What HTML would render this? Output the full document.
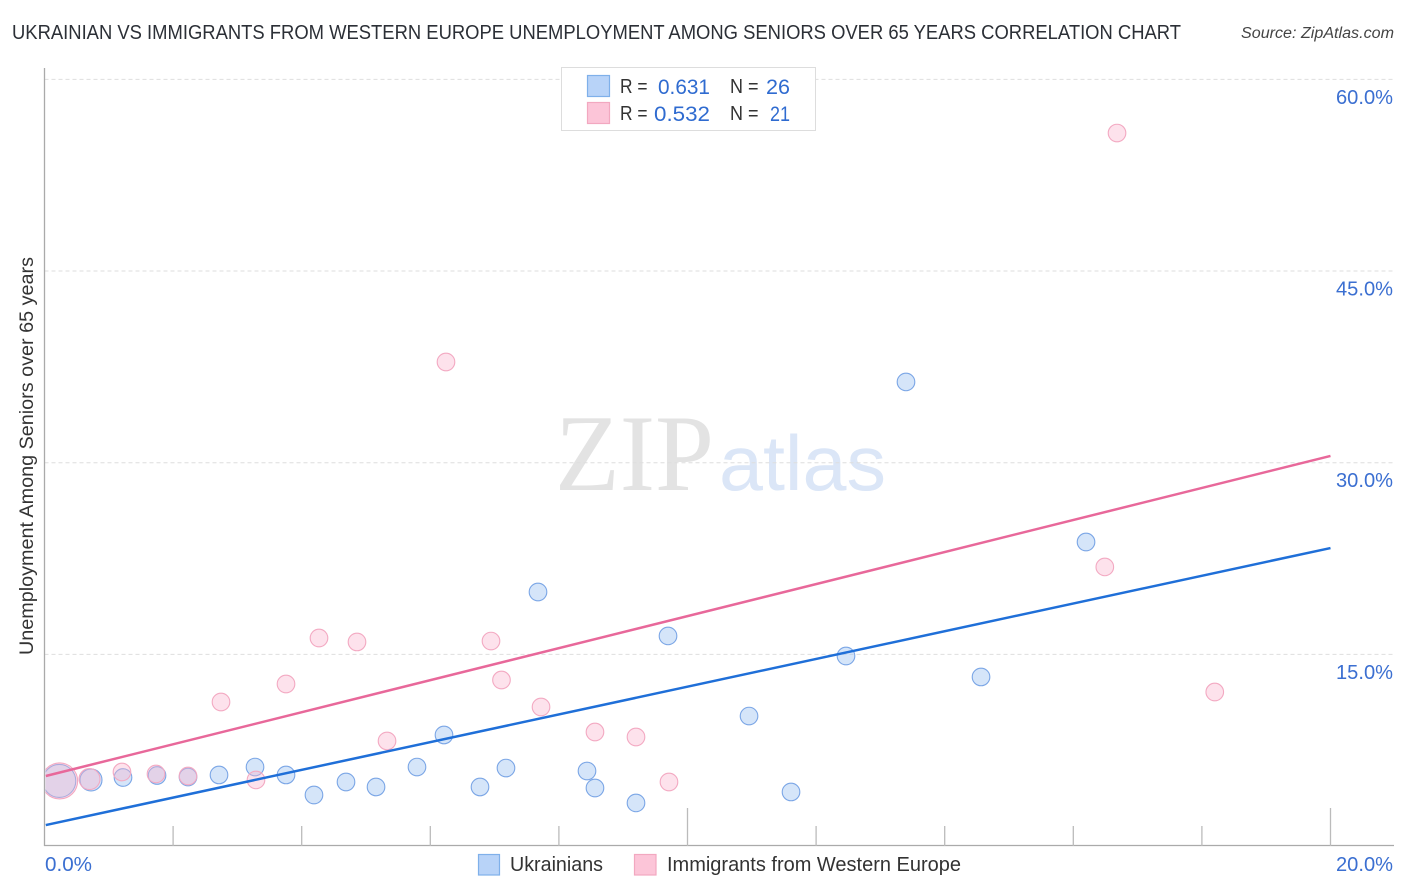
<!DOCTYPE html>
<html lang="en">
<head>
<meta charset="utf-8">
<title>Ukrainian vs Immigrants from Western Europe Unemployment Correlation Chart</title>
<style>
html,body{margin:0;padding:0;background:#fff;width:1406px;height:892px;overflow:hidden}
svg{display:block;font-family:"Liberation Sans",sans-serif}
</style>
</head>
<body>
<svg id="chart" width="1406" height="892" viewBox="0 0 1406 892">
  <defs><clipPath id="plot-clip"><rect x="45.5" y="60" width="1350" height="786"/></clipPath></defs>
  <text x="12" y="39" font-size="20" fill="#2b2f36" textLength="1169" lengthAdjust="spacingAndGlyphs">UKRAINIAN VS IMMIGRANTS FROM WESTERN EUROPE UNEMPLOYMENT AMONG SENIORS OVER 65 YEARS CORRELATION CHART</text>
  <text x="1241" y="38" font-size="15.5" font-style="italic" fill="#444" textLength="153" lengthAdjust="spacingAndGlyphs">Source: ZipAtlas.com</text>
  <g id="watermark">
    <text x="555" y="490" font-family="'Liberation Serif',serif" font-size="109" fill="#e3e3e3" textLength="159" lengthAdjust="spacingAndGlyphs">ZIP</text>
    <text x="719" y="490" font-size="78" fill="#dbe6f7" textLength="167" lengthAdjust="spacingAndGlyphs">atlas</text>
  </g>
  <g id="grid"></g>
  <g id="marks" clip-path="url(#plot-clip)"></g>
  <rect x="36" y="755" width="8.5" height="50" fill="#fff"/>
  <g id="axes"></g>
  <text transform="translate(33 456) rotate(-90)" text-anchor="middle" font-size="19" fill="#333" textLength="398" lengthAdjust="spacingAndGlyphs">Unemployment Among Seniors over 65 years</text>
  <g>
    <rect x="561.5" y="67.5" width="254" height="63" fill="#fff" stroke="#ddd"/>
    <rect x="587.5" y="75.5" width="22" height="21" fill="#b8d3f8" stroke="#7fb0ea" stroke-width="1.2"/>
    <rect x="587.5" y="102.5" width="22" height="21" fill="#fcc5d8" stroke="#f2a8c0" stroke-width="1.2"/>
    <g font-size="20" fill="#333">
      <text x="620" y="93" textLength="27.5" lengthAdjust="spacingAndGlyphs">R =</text>
      <text x="620" y="120" textLength="27.5" lengthAdjust="spacingAndGlyphs">R =</text>
      <text x="730" y="93" textLength="28.5" lengthAdjust="spacingAndGlyphs">N =</text>
      <text x="730" y="120" textLength="28.5" lengthAdjust="spacingAndGlyphs">N =</text>
    </g>
    <g font-size="21" fill="#2f6bd0">
      <text x="658" y="94" textLength="52" lengthAdjust="spacingAndGlyphs">0.631</text>
      <text x="654" y="121" textLength="56" lengthAdjust="spacingAndGlyphs">0.532</text>
      <text x="766" y="94" textLength="24" lengthAdjust="spacingAndGlyphs">26</text>
      <text x="770" y="121" textLength="20" lengthAdjust="spacingAndGlyphs">21</text>
    </g>
  </g>
  <g>
    <rect x="478.5" y="854.5" width="21" height="20.5" fill="#b8d3f8" stroke="#7fb0ea" stroke-width="1.2"/>
    <text x="510" y="871" font-size="20" fill="#333" textLength="93" lengthAdjust="spacingAndGlyphs">Ukrainians</text>
    <rect x="634.5" y="854.5" width="21.5" height="20.5" fill="#fcc5d8" stroke="#f2a8c0" stroke-width="1.2"/>
    <text x="667" y="871" font-size="20" fill="#333" textLength="294" lengthAdjust="spacingAndGlyphs">Immigrants from Western Europe</text>
  </g>
</svg>
<script>
const yTickValues = [15, 30, 45, 60];
const yTickLabels = ['15.0%', '30.0%', '45.0%', '60.0%'];
const xTickValues = [2, 4, 6, 8, 10, 12, 14, 16, 18, 20];
const xMajorTicks = [10, 20];
const xEndLabels = ['0.0%', '20.0%'];
const xEndValues = [0, 20];

const ukrainianX = [0.230, 0.723, 1.221, 1.750, 2.232, 2.714, 3.274, 3.756, 4.191, 4.689, 5.156, 5.793, 6.213, 6.773, 7.177, 7.675, 8.437, 8.561, 9.199, 9.697, 10.957, 11.610, 12.465, 13.398, 14.565, 16.198];
const ukrainianY = [5.09, 5.17, 5.36, 5.52, 5.40, 5.56, 6.18, 5.56, 3.99, 5.01, 4.62, 6.18, 8.69, 4.62, 6.10, 19.88, 5.87, 4.54, 3.37, 16.44, 10.17, 4.23, 14.87, 36.32, 13.23, 23.79];
const immigrantX = [0.235, 0.700, 1.205, 1.734, 2.232, 2.745, 3.289, 3.756, 4.269, 4.860, 5.327, 6.244, 6.944, 7.107, 7.722, 8.561, 9.199, 9.712, 16.68, 16.49, 18.20];
const immigrantY = [5.09, 5.24, 5.79, 5.64, 5.48, 11.27, 5.17, 12.68, 16.28, 15.97, 8.22, 37.88, 16.04, 12.99, 10.88, 8.92, 8.53, 5.01, 55.80, 21.84, 12.05];

const trendX = [0.02, 20];
const ukrainianTrend = [1.64, 23.32];
const immigrantTrend = [5.48, 30.53];

const NS = 'http://www.w3.org/2000/svg';
const xScale = v => 44.5 + v * 64.3;
const yScale = v => 846 - v * 12.777;
function mk(parent, tag, attrs, text) {
  const el = document.createElementNS(NS, tag);
  for (const k in attrs) el.setAttribute(k, attrs[k]);
  if (text !== undefined) el.textContent = text;
  parent.appendChild(el);
  return el;
}
const grid = document.getElementById('grid');
const axes = document.getElementById('axes');
const marks = document.getElementById('marks');

yTickValues.forEach((v, i) => {
  const line = mk(grid, 'line', {x1: 44.5, x2: 1394, y1: yScale(v), y2: yScale(v), stroke: '#dedede', 'stroke-width': 1, 'stroke-dasharray': '4 3'});
  
  
  const label = mk(axes, 'text', {x: 1393, y: yScale(v) + 24.5, 'text-anchor': 'end', 'font-size': 20, fill: '#3b6fd1', textLength: 57, lengthAdjust: 'spacingAndGlyphs'}, yTickLabels[i]);
  
  
});

const yAxis = mk(axes, 'line', {x1: 44.5, x2: 44.5, y1: 68, y2: 846, stroke: '#aaa', 'stroke-width': 1.3});


const xAxis = mk(axes, 'line', {x1: 44, x2: 1394, y1: 845.5, y2: 845.5, stroke: '#aaa', 'stroke-width': 1.3});



xTickValues.forEach(v => {
  const tick = mk(axes, 'line', {x1: xScale(v), x2: xScale(v), y1: xMajorTicks.includes(v) ? 808 : 826, y2: 846, stroke: '#bbb', 'stroke-width': 1.3});
  
  
});

xEndLabels.forEach((t, i) => {
  const isFirst = i === 0;
  const label = mk(axes, 'text', {x: isFirst ? xScale(xEndValues[i]) + 0.5 : 1393, y: 871, 'text-anchor': isFirst ? 'start' : 'end', 'font-size': 20, fill: '#3b6fd1', textLength: isFirst ? 47 : 57, lengthAdjust: 'spacingAndGlyphs'}, t);
  
  
});

function drawPoints(xs, ys, fill, stroke, name, bigR, midR) {
  xs.forEach((x, i) => {
    const r = i === 0 ? bigR : (i === 1 ? midR : 8.8);
    const c = mk(marks, 'circle', {cx: xScale(x), cy: yScale(ys[i]), r: r, fill: fill, stroke: stroke, 'stroke-width': 1.1});
    
    
  });
}
drawPoints(ukrainianX, ukrainianY, 'rgba(150,190,240,0.4)', '#7ba6e6', 'ukrainians', 16.5, 11);
drawPoints(immigrantX, immigrantY, 'rgba(250,180,205,0.38)', '#f3a9c2', 'immigrants', 18, 10.5);

function drawTrend(vals, color, name) {
  const l = mk(marks, 'line', {x1: xScale(trendX[0]), x2: xScale(trendX[1]), y1: yScale(vals[0]), y2: yScale(vals[1]), stroke: color, 'stroke-width': 2.5});
  
  
}
drawTrend(immigrantTrend, '#e8689a', 'immigrants-trend-line');
drawTrend(ukrainianTrend, '#1f6fd8', 'ukrainians-trend-line');
</script>
</body>
</html>
